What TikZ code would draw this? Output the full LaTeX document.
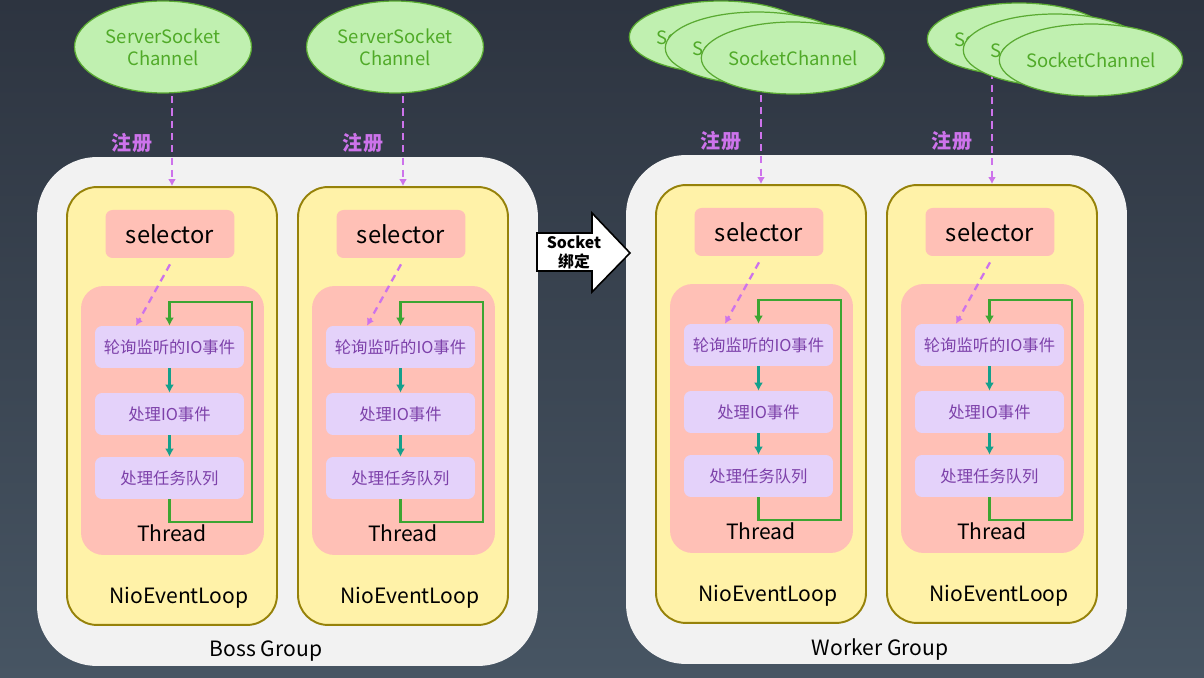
\documentclass[tikz,border=0pt]{standalone}
\usepackage{fontspec}
\setmainfont{Noto Sans CJK SC}
\usetikzlibrary{shapes.geometric,arrows.meta}
\pgfdeclarelayer{back}
\pgfdeclarelayer{mid}
\pgfsetlayers{back,mid,main}
\definecolor{bgtop}{RGB}{45,52,64}
\definecolor{bgbot}{RGB}{71,85,99}
\definecolor{grpfill}{RGB}{242,242,242}
\definecolor{loopfill}{RGB}{255,242,168}
\definecolor{loopedge}{RGB}{150,130,10}
\definecolor{selfill}{RGB}{255,192,182}
\definecolor{stepfill}{RGB}{228,210,250}
\definecolor{steptext}{RGB}{125,65,170}
\definecolor{chanfill}{RGB}{192,240,176}
\definecolor{chanedge}{RGB}{90,170,50}
\definecolor{chantext}{RGB}{80,170,40}
\definecolor{regcolor}{RGB}{205,115,235}
\definecolor{loopgreen}{RGB}{60,165,50}
\definecolor{stepteal}{RGB}{20,160,140}
\begin{document}
\begin{tikzpicture}[
                x=0.02cm, y=-0.02cm,
                nettyGroup/.style={rounded corners=1.2cm,fill=grpfill,
                                   minimum width=10.02cm,minimum height=10.18cm,inner sep=0pt},
                nettyLoop/.style={rounded corners=0.6cm,draw=loopedge,fill=loopfill,line width=1.1pt,
                                  minimum width=4.2cm,minimum height=8.76cm,inner sep=0pt},
                nettySel/.style={rounded corners=4pt,fill=selfill,minimum width=2.58cm,
                                 minimum height=0.96cm,font=\fontsize{13.5}{16}\selectfont},
                nettyThread/.style={rounded corners=0.45cm,fill=selfill,
                                    minimum width=3.66cm,minimum height=5.38cm,inner sep=0pt},
                nettyStep/.style={rounded corners=4pt,fill=stepfill,text=steptext,
                                  minimum width=2.98cm,minimum height=0.84cm,inner sep=0pt,
                                  font=\fontsize{9.3}{11}\selectfont},
                nettyLabel/.style={font=\fontsize{12}{14}\selectfont},
                nettyChan/.style={ellipse,draw=chanedge,fill=chanfill,text=chantext,line width=0.7pt,
                                  inner sep=0pt,align=center,font=\fontsize{10.5}{12.5}\selectfont},
                nettyReg/.style={draw=regcolor,line width=1.3pt,dash pattern=on 4pt off 3pt,
                                 -{Latex[length=4pt,width=4.5pt]}},
                nettyRegText/.style={text=regcolor,font=\bfseries\fontsize{11.4}{13}\selectfont},
                nettyFlow/.style={draw=stepteal,line width=1.4pt,-{Latex[length=4.5pt,width=5pt]}},
                nettyCycle/.style={draw=loopgreen,line width=1.3pt,-{Latex[length=4.5pt,width=5pt]}}]
    \begin{pgfonlayer}{back}
        \fill[top color=bgtop,bottom color=bgbot] (0,0) rectangle (1204,678);
        \node[nettyGroup] (boss) at (287.5,411.5) {};
        \node[nettyGroup] (worker) at (876.5,409.5) {};
    \end{pgfonlayer}
    \node[nettyLabel] (bosslbl) at (266,651) {Boss Group};
    \node[nettyLabel] (workerlbl) at (880,650) {Worker Group};
    % channels
    \node[nettyChan,minimum width=3.54cm,minimum height=1.84cm] (chb1) at (163,47) {ServerSocket\\Channel};
    \node[nettyChan,minimum width=3.54cm,minimum height=1.84cm] (chb2) at (395,47) {ServerSocket\\Channel};
    \foreach \n/\cx/\cy in {w1/793/58,w2/1091/60}{
        \node[nettyChan,minimum width=3.64cm,minimum height=1.44cm] (ch\n a) at (\cx-72,\cy-21) {SocketChannel};
        \node[nettyChan,minimum width=3.64cm,minimum height=1.44cm] (ch\n b) at (\cx-36,\cy-10) {SocketChannel};
        \node[nettyChan,minimum width=3.64cm,minimum height=1.44cm] (ch\n) at (\cx,\cy) {SocketChannel};
    }
    % event loops
    \foreach \n/\dx/\dy in {b1/0/0,b2/231/0,w1/589/-2,w2/820/-2}{
        \begin{scope}[shift={(\dx,\dy)}]
            \node[nettyLoop] (loop\n) at (172,406) {};
            \node[nettySel] (sel\n) at (170,234) {selector};
            \node[nettyThread] (thr\n) at (172.5,420.5) {};
            \node[nettyStep] (s1\n) at (169.5,347) {轮询监听的IO事件};
            \node[nettyStep] (s2\n) at (169.5,414) {处理IO事件};
            \node[nettyStep] (s3\n) at (169.5,478) {处理任务队列};
            \node[nettyLabel] (thrlbl\n) at (172,533) {Thread};
            \node[nettyLabel] (nel\n) at (179,598) {NioEventLoop};
            \node[nettyRegText] (reg\n) at (132,143) {注册};
            \coordinate (lb\n) at (252,522);
            \coordinate (lt\n) at (252,302);
            \draw[nettyFlow] (s1\n) -- (s2\n);
            \draw[nettyFlow] (s2\n) -- (s3\n);
            \draw[nettyCycle] (s3\n.south) |- (lb\n) -- (lt\n) -| (s1\n.north);
            \draw[nettyReg] ([yshift=-0.12cm]sel\n.south) -- ([xshift=-0.67cm]s1\n.north);
        \end{scope}
        \begin{pgfonlayer}{mid}
            \draw[nettyReg] (loop\n.north |- ch\n.center) -- (loop\n.north);
        \end{pgfonlayer}
    }
    % socket binding arrow
    \draw[black,fill=white,line width=0.9pt] (537,233) -- (592,233) -- (592,213) -- (630,253)
        -- (592,292) -- (592,271) -- (537,271) -- cycle;
    \node[align=center,font=\bfseries\fontsize{9}{10.8}\selectfont] (sockarrow) at (574,252) {Socket\\绑定};
\end{tikzpicture}
\end{document}
